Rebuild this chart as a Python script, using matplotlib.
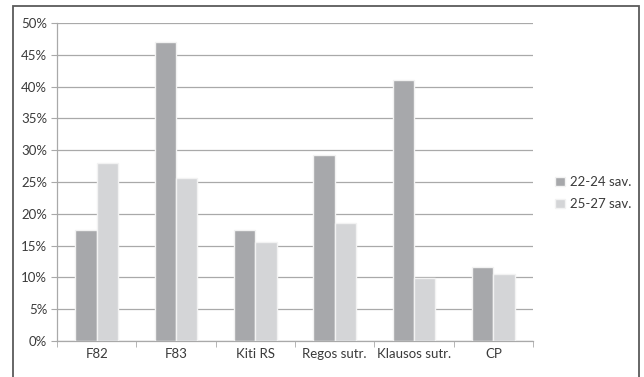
import matplotlib
matplotlib.use("Agg")
import matplotlib.pyplot as plt
import numpy as np
from matplotlib.patches import Rectangle

categories = ["F82", "F83", "Kiti RS", "Regos sutr.", "Klausos sutr.", "CP"]
series_names = ["22-24 sav.", "25-27 sav."]
values_2224 = [17.5, 47.0, 17.5, 29.3, 41.1, 11.6]
values_2527 = [28.0, 25.7, 15.6, 18.6, 9.9, 10.6]
y_ticks = [0, 5, 10, 15, 20, 25, 30, 35, 40, 45, 50]

plt.rcParams["font.family"] = ["Lato", "DejaVu Sans"]

W, H = 644, 377
fig = plt.figure(figsize=(W / 100, H / 100), dpi=100)

# plot area in pixel coordinates
x0, x1 = 57, 533
y_top, y_zero = 23, 341
ax = fig.add_axes([x0 / W, 1 - y_zero / H, (x1 - x0) / W, (y_zero - y_top) / H])

dark = "#a7a8ab"
light = "#d4d5d7"
grid_c = "#a9a9a9"
text_c = "#3a3a3a"
fs = 9.5

x = np.arange(len(categories))
bw = 0.27
ax.bar(x - bw / 2, values_2224, width=bw, color=dark, edgecolor="#f2f2f2",
       linewidth=1.0, label=series_names[0], zorder=3)
ax.bar(x + bw / 2, values_2527, width=bw, color=light, edgecolor="#f2f2f2",
       linewidth=1.0, label=series_names[1], zorder=3)

ax.set_xlim(-0.5, len(categories) - 0.5)
ax.set_ylim(0, 50)
ax.set_yticks(y_ticks)
ax.set_yticklabels([f"{v}%" for v in y_ticks])
ax.set_xticks(x)
ax.set_xticklabels(categories)
ax.set_xticks(np.arange(len(categories) + 1) - 0.5, minor=True)

ax.yaxis.grid(True, color=grid_c, linewidth=0.9, zorder=0)
ax.set_axisbelow(True)
for side in ["top", "right"]:
    ax.spines[side].set_visible(False)
ax.spines["left"].set_color(grid_c)
ax.spines["bottom"].set_color(grid_c)
ax.spines["left"].set_linewidth(0.9)
ax.spines["bottom"].set_linewidth(0.9)

ax.tick_params(axis="y", which="major", length=4, color=grid_c, labelsize=fs,
               labelcolor=text_c, pad=3)
ax.tick_params(axis="x", which="major", length=0, labelsize=fs,
               labelcolor=text_c, pad=5)
ax.tick_params(axis="x", which="minor", length=4, color=grid_c)

leg = fig.legend(loc="upper left", bbox_to_anchor=(550 / W, 1 - 171 / H),
                 frameon=False, fontsize=fs, handlelength=0.7, handleheight=0.7,
                 handletextpad=0.4, labelspacing=0.75, borderaxespad=0)
for t in leg.get_texts():
    t.set_color(text_c)

# outer chart border
fig.patches.append(Rectangle((13 / W, -0.05), (639 - 13) / W, 1.05 - 6 / H,
                             transform=fig.transFigure, fill=False,
                             edgecolor="#5a5a5a", linewidth=1.3))

fig.savefig("out.png", dpi=100, facecolor="white")
